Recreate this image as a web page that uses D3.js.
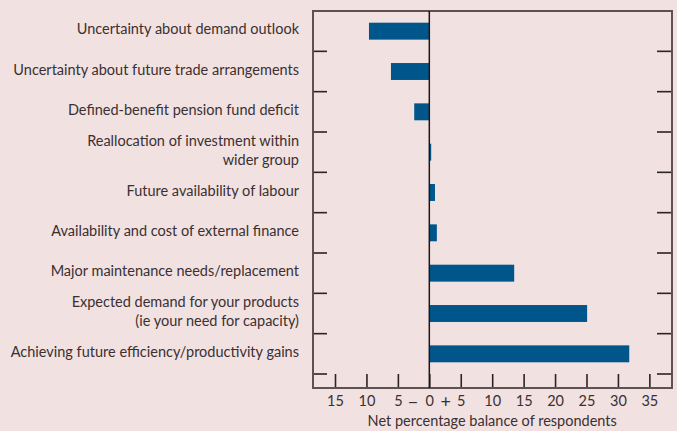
<!DOCTYPE html>
<html>
<head>
<meta charset="utf-8">
<script src="https://cdn.jsdelivr.net/npm/d3@7"></script>
<style>
  body { margin: 0; background: #f2e1e1; }
  svg { display: block; font-family: Lato, "Open Sans", sans-serif; }
</style>
</head>
<body>
<div id="chart"></div>
<script>
// categories, top to bottom (each label is split into lines)
var categories = [
    ["Uncertainty about demand outlook"],
    ["Uncertainty about future trade arrangements"],
    ["Defined-benefit pension fund deficit"],
    ["Reallocation of investment within", "wider group"],
    ["Future availability of labour"],
    ["Availability and cost of external finance"],
    ["Major maintenance needs/replacement"],
    ["Expected demand for your products", "(ie your need for capacity)"],
    ["Achieving future efficiency/productivity gains"]
];
var balances = [-9.6, -6.1, -2.4, 0.3, 0.9, 1.2, 13.5, 25.1, 31.8];
var tickValues = [-15, -10, -5, 0, 5, 10, 15, 20, 25, 30, 35];
var xTitle = "Net percentage balance of respondents";

var width = 677;
var height = 431;
var margin = { top: 11, right: 5, bottom: 43, left: 313 };
var axisGap = 14; // empty band above the bottom axis
var fontSize = 14.5;

var keys = categories.map(function (c) { return c.join(" "); });
var data = keys.map(function (k, i) { return { key: k, lines: categories[i], value: balances[i] }; });

var svg = d3.select("#chart").append("svg")
    .attr("width", width)
    .attr("height", height);

svg.append("rect")
    .attr("width", width)
    .attr("height", height)
    .attr("fill", "#f2e1e1");

var plotBottom = height - margin.bottom;

var xScale = d3.scaleLinear()
    .domain([-18.5, 38.6])
    .range([margin.left, width - margin.right]);

var yScale = d3.scaleBand()
    .domain(keys)
    .range([margin.top, plotBottom - axisGap])
    .paddingInner(0.58)
    .paddingOuter(0.29);

var step = yScale.step();
var textColor = "#3a3031";
var frameColor = "#5c5253";

// bars
svg.append("g").selectAll("rect")
    .data(data)
    .enter()
    .append("rect")
    .attr("x", function (d) { return xScale(Math.min(0, d.value)); })
    .attr("y", function (d) { return yScale(d.key); })
    .attr("width", function (d) { return Math.abs(xScale(d.value) - xScale(0)); })
    .attr("height", yScale.bandwidth())
    .attr("fill", "#00568b");

// category separator ticks, left and right
var sepY = keys.map(function (k) { return yScale(k) - yScale.paddingOuter() * step + step; });
var sep = svg.append("g").attr("stroke", "#2b2324").attr("stroke-width", 1.6);
sep.selectAll("line.l")
    .data(sepY)
    .enter().append("line")
    .attr("class", "l")
    .attr("x1", margin.left).attr("x2", margin.left + 14)
    .attr("y1", function (d) { return d; }).attr("y2", function (d) { return d; });
sep.selectAll("line.r")
    .data(sepY)
    .enter().append("line")
    .attr("class", "r")
    .attr("x1", width - margin.right - 15).attr("x2", width - margin.right)
    .attr("y1", function (d) { return d; }).attr("y2", function (d) { return d; });

// bottom axis: inward ticks
var xAxis = d3.axisBottom(xScale)
    .tickValues(tickValues)
    .tickSize(-14)
    .tickFormat(function (d) { return Math.abs(d); });

var axisG = svg.append("g")
    .attr("transform", "translate(0," + plotBottom + ")")
    .call(xAxis);
axisG.select(".domain").remove();
axisG.selectAll(".tick line").attr("stroke", "#2b2324").attr("stroke-width", 1.6);
axisG.selectAll(".tick text")
    .attr("fill", textColor)
    .attr("font-size", fontSize)
    .attr("y", 8)
    .attr("dy", "0.71em")
    .attr("font-family", "Lato, sans-serif");

// minus and plus signs either side of zero
svg.append("g").selectAll("text")
    .data([{ v: -2.6, t: "\u2212" }, { v: 2.6, t: "+" }])
    .enter().append("text")
    .attr("x", function (d) { return xScale(d.v); })
    .attr("y", plotBottom + 20)
    .attr("text-anchor", "middle")
    .attr("font-size", 18)
    .attr("fill", textColor)
    .text(function (d) { return d.t; });

// frame
svg.append("rect")
    .attr("x", margin.left)
    .attr("y", margin.top)
    .attr("width", xScale.range()[1] - margin.left)
    .attr("height", plotBottom - margin.top)
    .attr("fill", "none")
    .attr("stroke", frameColor)
    .attr("stroke-width", 2);

// zero line
svg.append("line")
    .attr("x1", xScale(0)).attr("x2", xScale(0))
    .attr("y1", margin.top).attr("y2", plotBottom)
    .attr("stroke", "#1e1718")
    .attr("stroke-width", 1.5);

// category labels
var labels = svg.append("g")
    .attr("text-anchor", "end")
    .attr("font-size", fontSize)
    .attr("fill", textColor);

labels.selectAll("text")
    .data(data)
    .enter().append("text")
    .attr("x", margin.left - 14)
    .attr("y", function (d) { return yScale(d.key) + yScale.bandwidth() / 2 - 2; })
    .each(function (d) {
        var t = d3.select(this);
        var n = d.lines.length;
        d.lines.forEach(function (line, i) {
            t.append("tspan")
                .attr("x", margin.left - 14)
                .attr("dy", i === 0 ? ((-(n - 1) * 19 / 2) + 5) : 19)
                .text(line);
        });
    });

// axis title
svg.append("text")
    .attr("x", xScale(10))
    .attr("y", 426)
    .attr("text-anchor", "middle")
    .attr("font-size", fontSize)
    .attr("fill", textColor)
    .text(xTitle);
</script>
</body>
</html>
